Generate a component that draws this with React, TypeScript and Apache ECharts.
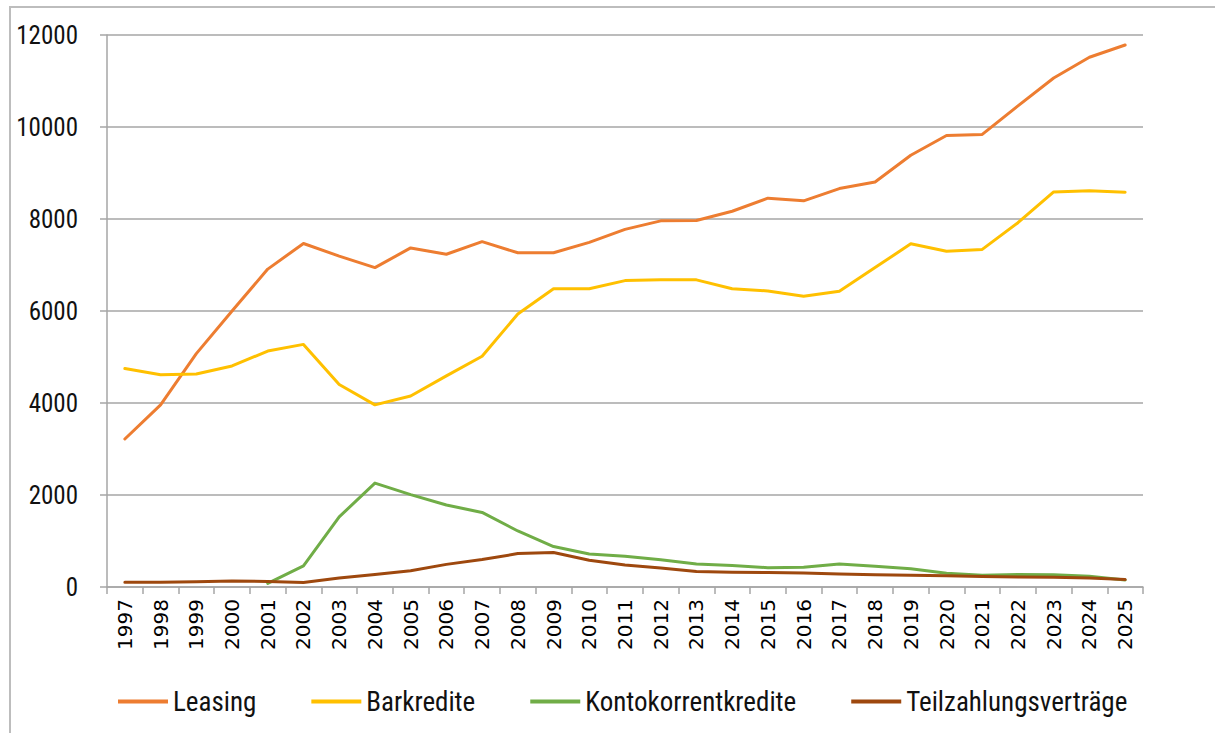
import React, { useEffect, useRef } from "react";
import * as echarts from "echarts";

const years = [
  "1997", "1998", "1999", "2000", "2001", "2002", "2003", "2004", "2005", "2006",
  "2007", "2008", "2009", "2010", "2011", "2012", "2013", "2014", "2015", "2016",
  "2017", "2018", "2019", "2020", "2021", "2022", "2023", "2024", "2025",
];

const leasing = [
  3218, 3960, 5073, 6000, 6911, 7468, 7194, 6944, 7371, 7234,
  7508, 7266, 7266, 7492, 7774, 7960, 7968, 8169, 8452, 8395,
  8661, 8806, 9387, 9815, 9839, 10460, 11065, 11516, 11782,
];

const barkredite = [
  4750, 4613, 4629, 4806, 5129, 5274, 4403, 3960, 4153, 4589,
  5016, 5935, 6484, 6484, 6661, 6677, 6677, 6484, 6435, 6323,
  6427, 6944, 7460, 7298, 7339, 7919, 8589, 8613, 8581,
];

const kontokorrent = [
  null, null, null, null, 80, 460, 1524, 2258, 2008, 1782,
  1621, 1218, 879, 718, 669, 593, 500, 468, 419, 427,
  500, 452, 395, 298, 258, 274, 266, 234, 153,
];

const teilzahlung = [
  105, 105, 113, 129, 121, 97, 194, 274, 355, 492,
  597, 726, 750, 581, 476, 411, 339, 323, 315, 306,
  282, 266, 258, 242, 226, 218, 210, 194, 161,
];

const seriesNames = ["Leasing", "Barkredite", "Kontokorrentkredite", "Teilzahlungsverträge"];
const seriesColors = ["#ED7D31", "#FFC000", "#70AD47", "#9E480E"];

const narrowFont = "'Liberation Sans Narrow', 'Arial Narrow', 'Roboto Condensed', Roboto, sans-serif";

export default function App() {
  const ref = useRef<HTMLDivElement>(null);

  useEffect(() => {
    if (!ref.current) return;
    const chart = echarts.init(ref.current, null, { renderer: "svg" });
    const dataSets = [leasing, barkredite, kontokorrent, teilzahlung];
    chart.setOption({
      animation: false,
      backgroundColor: "#ffffff",
      grid: { left: 107, right: 72, top: 35, bottom: 146, containLabel: false },
      graphic: [
        {
          type: "rect",
          shape: { x: 10, y: 7, width: 1220, height: 740 },
          style: { fill: "none", stroke: "#bdbdbd", lineWidth: 2 },
          silent: true,
        },
      ],
      legend: {
        left: 113,
        top: 683,
        icon: "rect",
        itemWidth: 50,
        itemHeight: 4,
        itemGap: 55,
        textStyle: { fontFamily: narrowFont, fontSize: 27, color: "#111" },
        data: seriesNames,
      },
      xAxis: {
        type: "category",
        data: years,
        boundaryGap: true,
        axisLine: { show: true, lineStyle: { color: "#a6a6a6", width: 1.5 } },
        axisTick: { show: true, length: 7, lineStyle: { color: "#a6a6a6", width: 1.5 } },
        axisLabel: {
          rotate: 90,
          interval: 0,
          margin: 12,
          fontFamily: "'DejaVu Sans', sans-serif",
          fontSize: 20,
          color: "#000",
        },
      },
      yAxis: {
        type: "value",
        min: 0,
        max: 12000,
        interval: 2000,
        axisLine: { show: true, lineStyle: { color: "#a6a6a6", width: 1.5 } },
        axisTick: { show: true, length: 7, lineStyle: { color: "#a6a6a6", width: 1.5 } },
        splitLine: { show: true, lineStyle: { color: "#a6a6a6", width: 1.5 } },
        axisLabel: {
          margin: 29,
          fontFamily: narrowFont,
          fontSize: 25,
          color: "#111",
          formatter: (v: number) => String(v),
        },
      },
      series: seriesNames.map((name, i) => ({
        name,
        type: "line",
        data: dataSets[i],
        symbol: "none",
        connectNulls: false,
        lineStyle: { color: seriesColors[i], width: 3, cap: "round", join: "round" },
        itemStyle: { color: seriesColors[i] },
      })),
    });
    return () => chart.dispose();
  }, []);

  return (
    <div
      ref={ref}
      style={{ position: "fixed", left: 0, top: 0, width: 1215, height: 733 }}
    />
  );
}
